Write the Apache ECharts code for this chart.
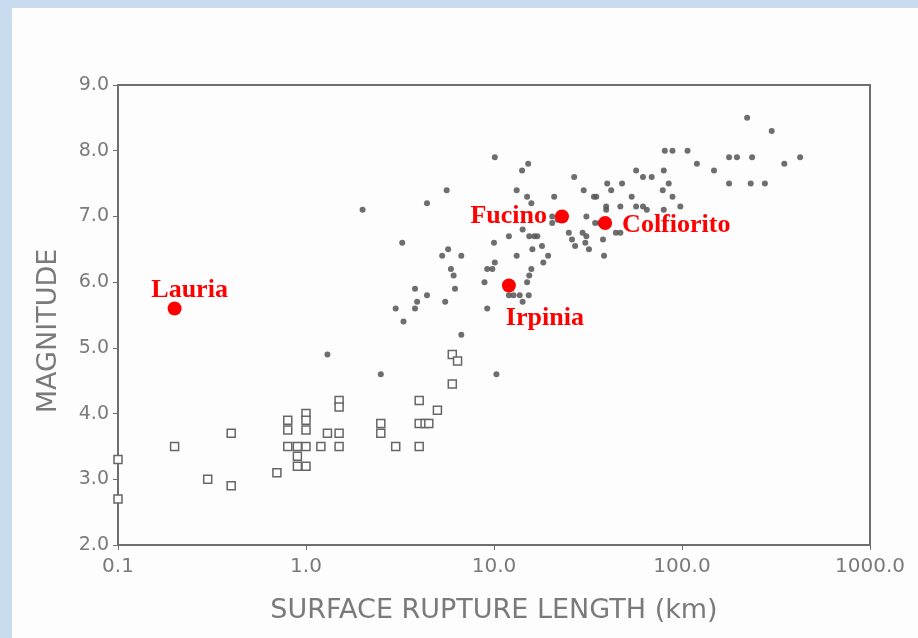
<!DOCTYPE html>
<html>
<head>
<meta charset="utf-8">
<script src="https://cdn.jsdelivr.net/npm/echarts@6/dist/echarts.min.js"></script>
<style>
    html, body { margin: 0; padding: 0; background: #c9dcef; }
    #chart { width: 918px; height: 638px; }
</style>
</head>
<body>
<div id="chart"></div>
<script>
// 地震数据：地表破裂长度 (km) 与震级
var dotLength = [ 2.0, 3.0, 3.3, 3.25, 3.8, 3.8, 3.9, 4.4, 4.4, 5.5, 5.3, 5.6, 5.7, 5.9, 6.1, 6.2, 6.7, 6.7,
    1.3, 2.5, 10.3, 8.9, 9.2, 9.8, 10.1, 10, 10.1, 12, 12, 12.7, 13.7, 14.2, 15.3, 15, 15.4, 15.8,
    13.2, 14.2, 15.4, 16.4, 17, 18, 16, 19.4, 18.3, 20.4, 20.4, 21.8, 13.2, 15, 15.8, 14.1, 15.2,
    20.9, 26.7, 25, 26, 27, 29.6, 31, 30.6, 34.5, 36.5, 38, 44.5, 47, 32, 38.5, 31, 30, 34, 35,
    40, 42, 48, 39.5, 39.5, 47, 54, 57, 62, 69, 57, 62, 65, 79, 80, 85, 89, 98, 80, 81, 89, 107,
    120, 148, 178, 196, 236, 178, 232, 276, 222, 300, 350, 425, 9.2 ];
var dotMag = [ 7.1, 5.6, 5.4, 6.6, 5.9, 5.6, 5.7, 5.8, 7.2, 5.7, 6.4, 7.4, 6.5, 6.2, 6.1, 5.9, 6.4, 5.2,
    4.9, 4.6, 4.6, 6.0, 5.6, 6.2, 6.3, 6.6, 7.9, 6.7, 5.8, 5.8, 5.8, 5.7, 5.8, 6.0, 6.1, 6.2,
    6.4, 6.8, 6.7, 6.7, 6.7, 6.55, 6.5, 6.4, 6.3, 7.0, 6.9, 6.95, 7.4, 7.3, 7.2, 7.7, 7.8,
    7.3, 7.6, 6.75, 6.65, 6.55, 6.75, 6.7, 6.6, 6.9, 6.9, 6.65, 6.75, 6.75, 6.5, 6.4, 7.0, 7.4, 7.3, 7.3,
    7.5, 7.4, 7.5, 7.15, 7.1, 7.15, 7.3, 7.7, 7.6, 7.6, 7.15, 7.15, 7.1, 7.4, 7.7, 7.5, 7.3, 7.15, 7.1, 8.0, 8.0, 8.0,
    7.8, 7.7, 7.9, 7.9, 7.9, 7.5, 7.5, 7.5, 8.5, 8.3, 7.8, 7.9, 6.2 ];

var boxLength = [ 0.1, 0.1, 0.2, 0.3, 0.4, 0.4, 0.7, 0.8, 0.8, 0.8, 0.9, 0.9, 0.9, 1.0, 1.0, 1.0, 1.0, 1.0,
    1.2, 1.3, 1.5, 1.5, 1.5, 1.5, 2.5, 2.5, 3.0, 4.0, 4.0, 4.3, 4.5, 4.0, 5.0, 6.0, 6.0, 6.4 ];
var boxMag = [ 3.3, 2.7, 3.5, 3.0, 3.7, 2.9, 3.1, 3.9, 3.75, 3.5, 3.5, 3.35, 3.2, 4.0, 3.9, 3.75, 3.5, 3.2,
    3.5, 3.7, 3.7, 3.5, 4.2, 4.1, 3.85, 3.7, 3.5, 4.2, 3.85, 3.85, 3.85, 3.5, 4.05, 4.45, 4.9, 4.8 ];

var siteNames = [ 'Lauria', 'Irpinia', 'Fucino', 'Colfiorito' ];
var siteLength = [ 0.2, 12, 23, 39 ];
var siteMag = [ 5.6, 5.95, 7.0, 6.9 ];

function pairs( xs, ys ) {
    return xs.map( function( x, i ) { return [ x, ys[ i ] ]; } );
}

// 标签位置
var siteLabel = {
    Lauria: { position: 'top', distance: 0, offset: [ 15, 2 ] },
    Irpinia: { position: 'bottom', distance: 13, offset: [ 36, 0 ] },
    Fucino: { position: 'left', distance: 8, offset: [ 0, 0 ] },
    Colfiorito: { position: 'right', distance: 10, offset: [ 0, 2 ] }
};

var myChart = echarts.init( document.getElementById( 'chart' ) );

var grey = '#7a7a7a';

var option = {
    animation: false,
    backgroundColor: 'transparent',
    graphic: [ {
        type: 'rect',
        shape: { x: 12, y: 8, width: 906, height: 630 },
        style: { fill: '#fdfdfd' },
        z: -10
    } ],
    grid: {
        left: 118,
        top: 85,
        right: 48,
        bottom: 93,
        show: true,
        borderColor: '#6e6e6e',
        borderWidth: 2,
        backgroundColor: 'transparent'
    },
    xAxis: {
        type: 'log',
        logBase: 10,
        min: 0.1,
        max: 1000,
        name: 'SURFACE RUPTURE LENGTH (km)',
        nameLocation: 'middle',
        nameGap: 52,
        nameTextStyle: { color: grey, fontFamily: 'DejaVu Sans', fontSize: 27 },
        axisLine: { lineStyle: { color: '#6e6e6e', width: 2 } },
        axisTick: { show: true, length: 5, inside: false, lineStyle: { color: '#6e6e6e' } },
        minorTick: { show: false },
        splitLine: { show: false },
        axisLabel: {
            color: grey,
            fontFamily: 'DejaVu Sans',
            fontSize: 20,
            margin: 12,
            formatter: function( v ) { return v.toFixed( 1 ); }
        }
    },
    yAxis: {
        type: 'value',
        min: 2,
        max: 9,
        interval: 1,
        name: 'MAGNITUDE',
        nameLocation: 'middle',
        nameGap: 56,
        nameTextStyle: { color: grey, fontFamily: 'DejaVu Sans', fontSize: 27, padding: [ 0, 32, 0, 0 ] },
        axisLine: { show: true, lineStyle: { color: '#6e6e6e', width: 2 } },
        axisTick: { show: true, length: 5, lineStyle: { color: '#6e6e6e' } },
        splitLine: { show: false },
        axisLabel: {
            color: grey,
            fontFamily: 'DejaVu Sans',
            fontSize: 19,
            margin: 9,
            formatter: function( v ) { return v.toFixed( 1 ); }
        }
    },
    series: [ {
        name: 'dots',
        type: 'scatter',
        symbol: 'circle',
        symbolSize: 6,
        itemStyle: { color: '#555555', opacity: 0.85 },
        data: pairs( dotLength, dotMag )
    }, {
        name: 'boxes',
        type: 'scatter',
        symbol: 'rect',
        symbolSize: 8,
        itemStyle: { color: '#ffffff', borderColor: '#666', borderWidth: 1.5, opacity: 1 },
        data: pairs( boxLength, boxMag )
    }, {
        name: 'sites',
        type: 'scatter',
        symbol: 'circle',
        symbolSize: 14,
        z: 5,
        itemStyle: { color: '#ff0000', opacity: 1 },
        label: {
            show: true,
            color: '#ff0000',
            fontFamily: 'Liberation Serif',
            fontWeight: 'bold',
            fontSize: 26,
            formatter: '{b}'
        },
        data: siteNames.map( function( n, i ) {
            return {
                name: n,
                value: [ siteLength[ i ], siteMag[ i ] ],
                label: siteLabel[ n ]
            };
        } )
    } ]
};

myChart.setOption( option );
</script>
</body>
</html>
